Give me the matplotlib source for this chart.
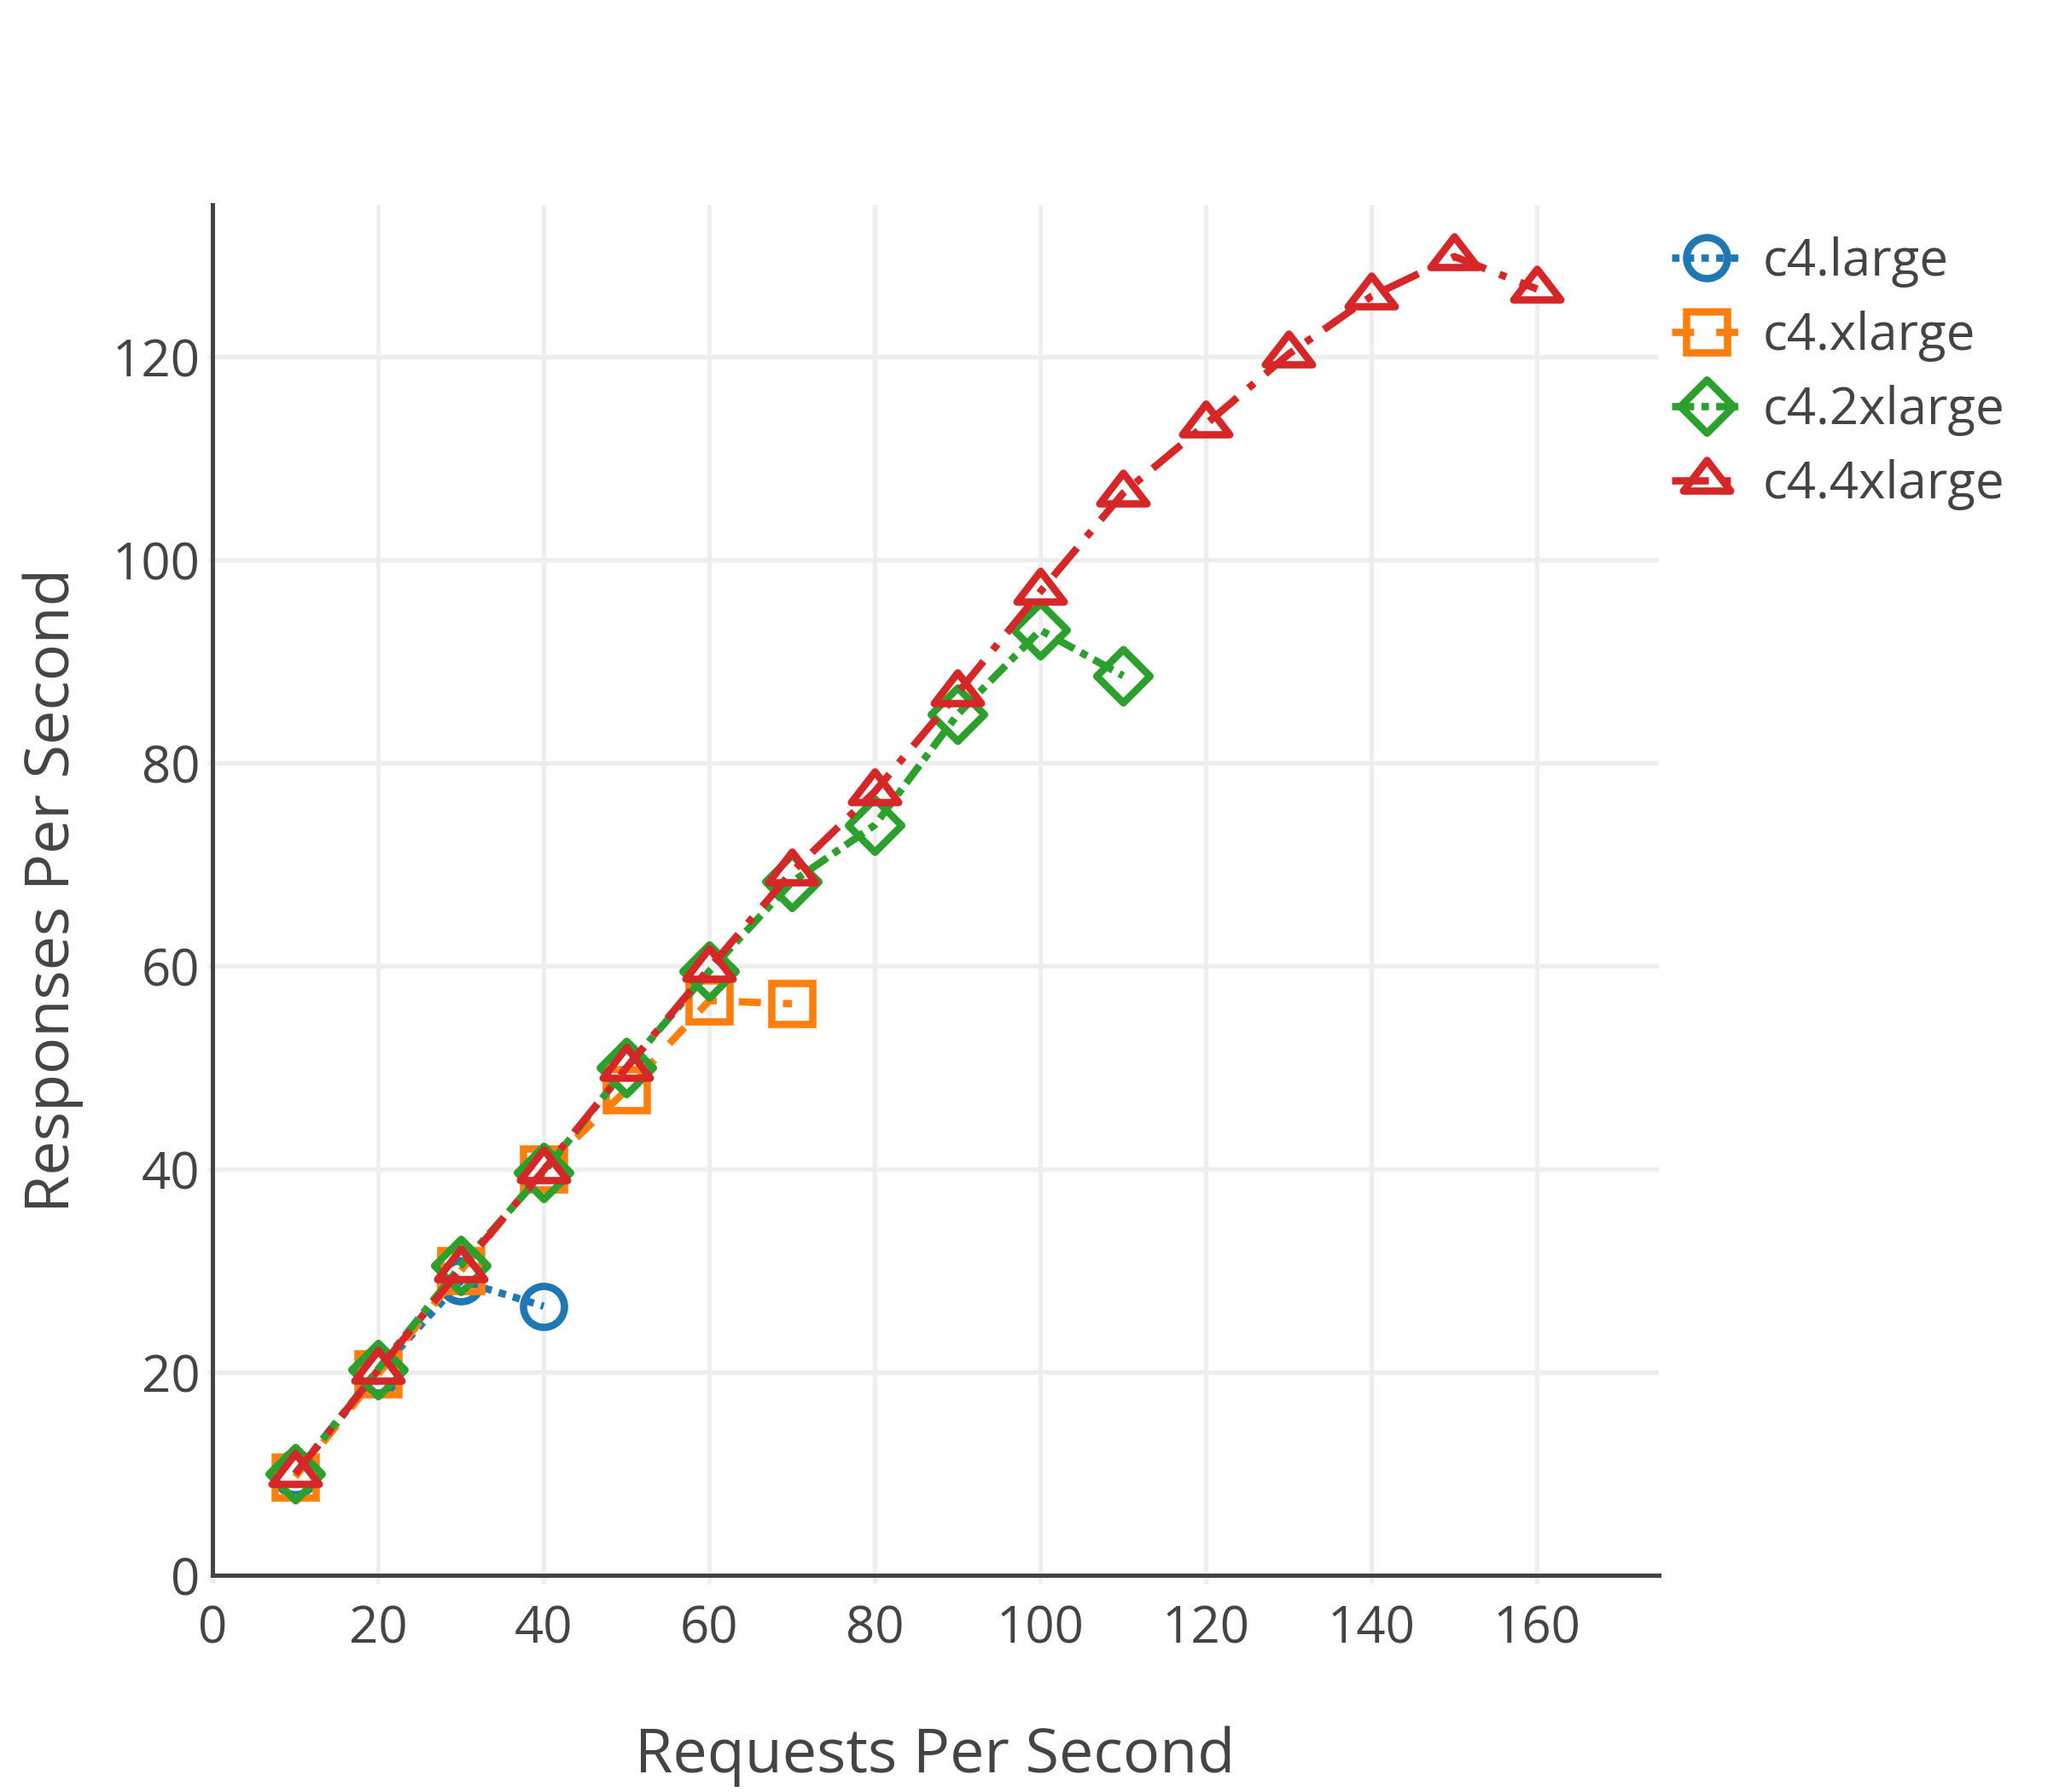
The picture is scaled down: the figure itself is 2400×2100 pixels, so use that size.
import matplotlib
matplotlib.use("Agg")
import matplotlib.pyplot as plt
from matplotlib.path import Path

plt.rcParams['font.family'] = ['Open Sans', 'DejaVu Sans']

# ---- data ----
series_names = ["c4.large", "c4.xlarge", "c4.2xlarge", "c4.4xlarge"]
x_large = [10, 20, 30, 40]
y_large = [10, 20, 29, 26.5]
x_xlarge = [10, 20, 30, 40, 50, 60, 70]
y_xlarge = [9.7, 19.8, 30, 40, 47.8, 56.6, 56.3]
x_2xlarge = [10, 20, 30, 40, 50, 60, 70, 80, 90, 100, 110]
y_2xlarge = [10, 20.3, 30.5, 39.7, 50, 59.5, 68.3, 73.9, 84.8, 93.1, 88.6]
x_4xlarge = [10, 20, 30, 40, 50, 60, 70, 80, 90, 100, 110, 120, 130, 140, 150, 160]
y_4xlarge = [10, 20.2, 30.2, 39.9, 50, 59.8, 69.3, 77.2, 86.9, 96.9, 106.6, 113.4, 120.3, 126.0, 129.9, 126.7]
x_ticks = [0, 20, 40, 60, 80, 100, 120, 140, 160]
y_ticks = [0, 20, 40, 60, 80, 100, 120]
x_title = "Requests Per Second"
y_title = "Responses Per Second"

colors = ["#1f77b4", "#ff7f0e", "#2ca02c", "#d62728"]

def closed(verts):
    v = list(verts) + [verts[0]]
    codes = [Path.MOVETO] + [Path.LINETO] * (len(verts) - 1) + [Path.CLOSEPOLY]
    return Path(v, codes)

diamond = closed([(1.3, 0), (0, 1.3), (-1.3, 0), (0, -1.3)])
triangle = closed([(-1.1547, -0.5), (1.1547, -0.5), (0, 1.0)])

DPI = 200
fig = plt.figure(figsize=(12, 10.5), dpi=DPI)
W, H = 2400, 2100
L, R, T, B = 249, 1944, 240, 1846
ax = fig.add_axes([L / W, (H - B) / H, (R - L) / W, (B - T) / H])

lw = 3.1
mew = 3.1
r = 8.64
styles = [
    dict(marker='o', ms=2 * r, ls=(0, (1, 1))),
    dict(marker='s', ms=2 * r, ls=(0, (3, 3))),
    dict(marker=diamond, ms=2.6 * r, ls=(0, (3, 1, 1, 1))),
    dict(marker=triangle, ms=2.309 * r, ls=(0, (5, 2, 1, 2))),
]
data = [(x_large, y_large), (x_xlarge, y_xlarge), (x_2xlarge, y_2xlarge), (x_4xlarge, y_4xlarge)]

handles = []
for i, ((xs, ys), st) in enumerate(zip(data, styles)):
    h, = ax.plot(xs, ys, color=colors[i], lw=lw, linestyle=st['ls'],
                 marker=st['marker'], ms=st['ms'], mew=mew, mfc='none',
                 mec=colors[i], dash_capstyle='butt', clip_on=False,
                 zorder=3 + i, label=series_names[i])
    handles.append(h)

ax.set_xlim(0, 174.7)
ax.set_ylim(0, 135)
ax.set_xticks(x_ticks)
ax.set_yticks(y_ticks)
ax.grid(True, color="#eeeeee", lw=1.9, zorder=0)
ax.set_axisbelow(True)
for s in ['top', 'right']:
    ax.spines[s].set_visible(False)
for s in ['left', 'bottom']:
    ax.spines[s].set_color("#444444")
    ax.spines[s].set_linewidth(1.8)
    ax.spines[s].set_zorder(2.5)
ax.tick_params(axis='x', colors="#eeeeee", length=3.6, width=1.9, pad=8.5,
               labelsize=21.6, labelcolor="#444444")
ax.tick_params(axis='y', colors="#eeeeee", length=2.2, width=1.9, pad=3,
               labelsize=21.6, labelcolor="#444444")

fig.text((L + R) / 2 / W - 0.0005, 1 - 2058 / H, x_title, ha='center', va='center',
         fontsize=25.9, color="#444444")
fig.text(62 / W, 1 - (T + B) / 2 / H, y_title, ha='center', va='center',
         rotation=90, fontsize=25.9, color="#444444")

leg = fig.legend(handles=handles, loc='upper left',
                 bbox_to_anchor=(1959 / W, 1 - 277 / H), borderaxespad=0,
                 borderpad=0, frameon=False, handlelength=1.35,
                 handletextpad=0.42, labelspacing=0.45, fontsize=21.6,
                 numpoints=1)
for t in leg.get_texts():
    t.set_color("#444444")

fig.savefig("out.png", dpi=DPI)
